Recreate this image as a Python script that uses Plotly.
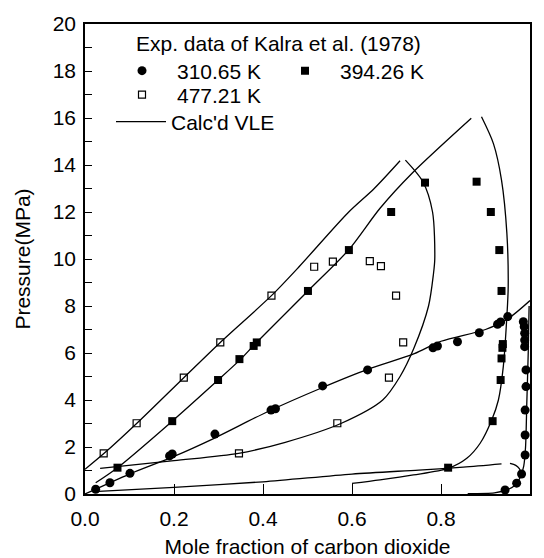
import plotly.graph_objects as go

# ---------------- experimental data (Kalra et al., 1978) ----------------
# 310.65 K : liquid (x) and vapour (y) branches
p310_liq = [0.2, 0.48, 0.88, 1.62, 1.7, 2.55, 3.57, 3.63, 4.6, 5.28, 6.22, 6.3, 6.48, 6.86, 7.22, 7.32, 7.55]
x310_liq = [0.024, 0.056, 0.101, 0.19, 0.196, 0.292, 0.418, 0.428, 0.534, 0.635, 0.782, 0.792, 0.837, 0.886, 0.927, 0.934, 0.95]
p310_vap = [0.17, 0.46, 0.85, 1.66, 2.51, 3.57, 4.57, 5.28, 6.27, 6.55, 6.84, 7.12, 7.33]
x310_vap = [0.944, 0.97, 0.981, 0.989, 0.989, 0.989, 0.991, 0.991, 0.988, 0.988, 0.988, 0.987, 0.985]

# 394.26 K
p394_liq = [1.12, 3.1, 4.85, 5.74, 6.3, 6.45, 8.64, 10.38, 12.0, 13.25]
x394_liq = [0.073, 0.196, 0.299, 0.347, 0.379, 0.386, 0.501, 0.593, 0.688, 0.764]
p394_vap = [1.12, 3.1, 4.85, 5.77, 6.22, 6.38, 8.64, 10.38, 12.0, 13.29]
x394_vap = [0.816, 0.916, 0.934, 0.936, 0.938, 0.939, 0.936, 0.931, 0.912, 0.88]

# 477.21 K
p477_liq = [1.73, 3.01, 4.95, 6.45, 8.44, 9.67, 9.89]
x477_liq = [0.042, 0.116, 0.222, 0.304, 0.419, 0.515, 0.557]
p477_vap = [1.73, 3.01, 4.95, 6.45, 8.44, 9.70, 9.91]
x477_vap = [0.346, 0.567, 0.683, 0.715, 0.699, 0.665, 0.640]

# ---------------- calculated VLE curves ----------------
calc477_liq_x = [0.0, 0.043, 0.116, 0.222, 0.304, 0.419, 0.481, 0.59, 0.65, 0.708]
calc477_liq_p = [1.05, 1.73, 3.0, 4.95, 6.45, 8.44, 9.67, 11.95, 13.0, 14.18]
calc477_vap_x = [0.034, 0.2, 0.345, 0.45, 0.575, 0.669, 0.708, 0.739, 0.772, 0.783, 0.786, 0.781, 0.759, 0.72]
calc477_vap_p = [1.09, 1.42, 1.73, 2.2, 3.0, 4.0, 5.0, 6.2, 8.0, 9.36, 10.0, 12.0, 13.3, 14.21]

calc394_liq_x = [0.024, 0.073, 0.196, 0.299, 0.35, 0.382, 0.501, 0.593, 0.663, 0.735, 0.868]
calc394_liq_p = [0.48, 1.12, 3.1, 4.85, 5.74, 6.38, 8.64, 10.4, 12.16, 13.65, 15.99]
calc394_vap_x = [0.6, 0.663, 0.738, 0.816, 0.858, 0.888, 0.914, 0.929, 0.94, 0.948, 0.951, 0.948, 0.936, 0.918, 0.891]
calc394_vap_p = [0.45, 0.6, 0.81, 1.09, 1.52, 2.16, 3.15, 4.0, 5.42, 7.55, 8.82, 11.1, 13.36, 14.9, 16.05]

calc310_liq_x = [0.0, 0.1, 0.2, 0.29, 0.41, 0.53, 0.635, 0.74, 0.8, 0.9, 0.95, 1.0]
calc310_liq_p = [0.0, 0.85, 1.6, 2.37, 3.5, 4.5, 5.3, 5.97, 6.5, 7.0, 7.45, 8.23]
calc310_vap_x = [0.86, 0.92, 0.944, 0.965, 0.978, 0.986, 0.99, 0.993, 0.996, 0.998]
calc310_vap_p = [0.02, 0.05, 0.15, 0.35, 0.7, 1.2, 2.0, 4.0, 6.0, 8.0]

calc_low_x = [0.02, 0.2, 0.4, 0.6, 0.75, 0.85, 0.936]
calc_low_p = [0.1, 0.28, 0.52, 0.85, 1.02, 1.14, 1.28]
calc_curl_x = [0.955, 0.968, 0.976, 0.98]
calc_curl_p = [1.3, 1.22, 1.08, 0.92]

FONT = "Liberation Sans, Arial, sans-serif"
FS = 21

fig = go.Figure()

curves = [
    (calc477_liq_x, calc477_liq_p),
    (calc477_vap_x, calc477_vap_p),
    (calc394_liq_x, calc394_liq_p),
    (calc394_vap_x, calc394_vap_p),
    (calc310_liq_x, calc310_liq_p),
    (calc310_vap_x, calc310_vap_p),
    (calc_low_x, calc_low_p),
    (calc_curl_x, calc_curl_p),
]
for i, (cx, cp) in enumerate(curves):
    fig.add_trace(go.Scatter(
        x=cx, y=cp, mode="lines",
        line=dict(color="black", width=1.3, shape="spline", smoothing=0.8),
        name="Calc'd VLE", legend="legend4", showlegend=(i == 0),
        hoverinfo="skip"))

fig.add_trace(go.Scatter(
    x=x310_liq + x310_vap, y=p310_liq + p310_vap, mode="markers",
    marker=dict(symbol="circle", size=9, color="black"),
    name="310.65 K", legend="legend", showlegend=True))
fig.add_trace(go.Scatter(
    x=x394_liq + x394_vap, y=p394_liq + p394_vap, mode="markers",
    marker=dict(symbol="square", size=8, color="black"),
    name="394.26 K", legend="legend2", showlegend=True))
fig.add_trace(go.Scatter(
    x=x477_liq + x477_vap, y=p477_liq + p477_vap, mode="markers",
    marker=dict(symbol="square-open", size=7, color="black", line=dict(width=1.2, color="black")),
    name="477.21 K", legend="legend3", showlegend=True))

L, R, T, B = 85, 14, 24, 64
W, H = 544, 558
pw, ph = W - L - R, H - T - B


def px(x):
    return (x - L) / pw


def py(y):
    return (H - B - y) / ph


leg_common = dict(font=dict(family=FONT, size=FS, color="black"), bgcolor="rgba(0,0,0,0)",
                  borderwidth=0, xanchor="left", yanchor="middle")

fig.update_layout(
    width=W, height=H,
    margin=dict(l=L, r=R, t=T, b=B, autoexpand=False),
    paper_bgcolor="white", plot_bgcolor="white",
    showlegend=True,
    font=dict(family=FONT, size=FS, color="black"),
    legend=dict(x=px(107), y=py(71), itemwidth=60, **leg_common),
    legend2=dict(x=px(270), y=py(71), itemwidth=60, **leg_common),
    legend3=dict(x=px(107), y=py(95), itemwidth=60, **leg_common),
    legend4=dict(x=px(111), y=py(122), itemwidth=50, **leg_common),
    annotations=[dict(text="Exp. data of Kalra et al. (1978)", x=px(134), y=py(43),
                      xref="paper", yref="paper", xanchor="left", yanchor="middle",
                      showarrow=False, font=dict(family=FONT, size=FS, color="black"))],
)

fig.update_xaxes(
    range=[0, 1], tickvals=[0, 0.2, 0.4, 0.6, 0.8, 1.0], tickformat=".1f",
    ticks="inside", ticklen=10, tickwidth=1.2, tickcolor="black",
    ticklabelstandoff=5, automargin=False,
    showline=True, linecolor="black", linewidth=1.5, mirror=True,
    showgrid=False, zeroline=False,
    tickfont=dict(family=FONT, size=FS, color="black"),
    title=dict(text="Mole fraction of carbon dioxide", font=dict(family=FONT, size=FS, color="black"), standoff=12),
)
fig.update_yaxes(
    range=[0, 20], dtick=2,
    ticks="inside", ticklen=7, tickwidth=1.2, tickcolor="black",
    ticklabelstandoff=3, automargin=False,
    minor=dict(dtick=1, ticks="inside", ticklen=7, tickwidth=1.2, tickcolor="black"),
    showline=True, linecolor="black", linewidth=1.5, mirror=True,
    showgrid=False, zeroline=False,
    tickfont=dict(family=FONT, size=FS, color="black"),
    title=dict(text="Pressure(MPa)", font=dict(family=FONT, size=FS, color="black"), standoff=16),
)

fig.write_html("out.html")
